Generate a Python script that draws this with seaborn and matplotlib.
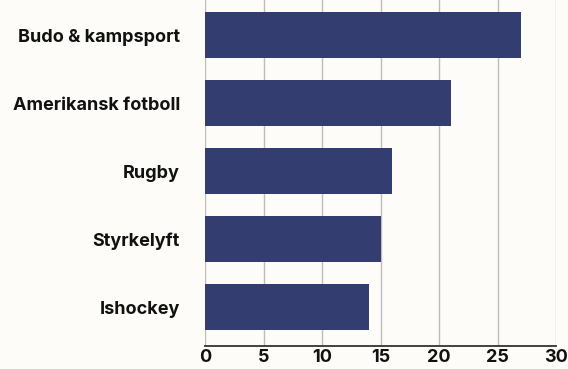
import matplotlib
matplotlib.use("Agg")
import matplotlib.pyplot as plt
import seaborn as sns
import pandas as pd

sports = ["Budo & kampsport", "Amerikansk fotboll", "Rugby", "Styrkelyft", "Ishockey"]
values = [27, 21, 16, 15, 14]
xticks = [0, 5, 10, 15, 20, 25, 30]

df = pd.DataFrame({"sport": sports, "value": values})

sns.set_style("white")
plt.rcParams["font.family"] = ["Inter", "DejaVu Sans"]

bg = "#fdfcf8"
fig = plt.figure(figsize=(5.68, 3.69), dpi=100, facecolor=bg)
ax = fig.add_axes([0.361, 0.0623, 0.618, 0.9377])
ax.set_facecolor(bg)

sns.barplot(data=df, x="value", y="sport", color="#333d70", saturation=1,
            width=0.68, linewidth=0, ax=ax, zorder=3)

ax.set_xlim(0, 30)
ax.set_ylim(4.57, -0.52)
ax.set_xticks(xticks)
ax.xaxis.grid(True, color="#bdbdbd", linewidth=1.0, zorder=0)
ax.set_xlabel("")
ax.set_ylabel("")
for s in ["top", "right", "left"]:
    ax.spines[s].set_visible(False)
ax.spines["bottom"].set_color("#333333")
ax.spines["bottom"].set_linewidth(1.3)
ax.tick_params(axis="x", length=0, pad=2, labelsize=13, labelcolor="#111111")
ax.tick_params(axis="y", length=0, pad=18, labelsize=13, labelcolor="#111111")
for lab in ax.get_xticklabels() + ax.get_yticklabels():
    lab.set_fontweight("bold")

fig.savefig("out.png", dpi=100, facecolor=bg)
